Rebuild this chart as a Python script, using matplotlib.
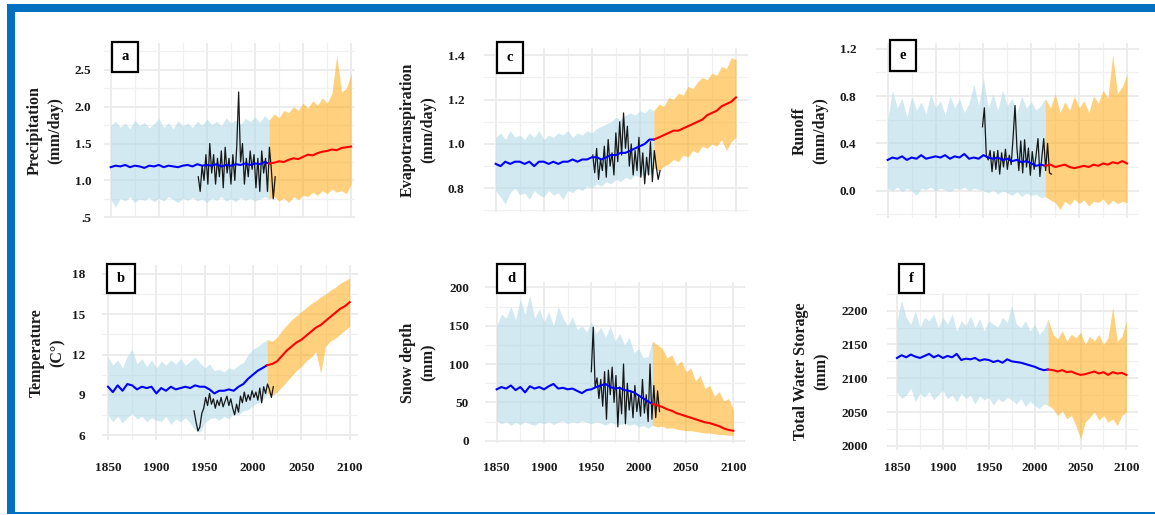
import numpy as np
import matplotlib.pyplot as plt
from matplotlib.patches import Rectangle

# Figure size in pixels (saved at dpi=100)
W, H = 1155, 515

plt.rcParams['font.family'] = ['Liberation Serif', 'DejaVu Serif']
plt.rcParams['font.weight'] = 'bold'

# -------------------------
# Data
# -------------------------
years = np.arange(1850, 2101, 5)      # 1850 ... 2100, 5-year steps
split = 33                            # index of 2015: historical / future boundary

# a: Precipitation (mm/day)
pr_hi = [1.75, 1.80, 1.72, 1.78, 1.70, 1.82, 1.74, 1.79, 1.71, 1.77,
         1.84, 1.72, 1.78, 1.70, 1.81, 1.74, 1.78, 1.72, 1.80, 1.75,
         1.83, 1.76, 1.80, 1.74, 1.85, 1.78, 1.82, 1.76, 1.84, 1.80,
         1.86, 1.79, 1.88, 1.82, 1.90, 1.85, 1.95, 1.92, 2.00, 1.95,
         2.05, 1.98, 2.08, 2.02, 2.12, 2.05, 2.18, 2.70, 2.20, 2.25,
         2.45]
pr_lo = [0.74, 0.64, 0.76, 0.72, 0.78, 0.70, 0.75, 0.73, 0.77, 0.71,
         0.76, 0.72, 0.78, 0.74, 0.70, 0.76, 0.73, 0.77, 0.72, 0.75,
         0.70, 0.76, 0.73, 0.78, 0.72, 0.75, 0.71, 0.77, 0.73, 0.76,
         0.72, 0.75, 0.78, 0.75, 0.78, 0.72, 0.76, 0.70, 0.78, 0.74,
         0.80, 0.78, 0.84, 0.80, 0.86, 0.82, 0.88, 0.84, 0.86, 0.82,
         0.95]
pr_mean = [1.18, 1.20, 1.19, 1.21, 1.18, 1.20, 1.19, 1.17, 1.20, 1.19,
           1.21, 1.18, 1.20, 1.19, 1.18, 1.20, 1.21, 1.19, 1.22, 1.20,
           1.21, 1.20, 1.22, 1.19, 1.21, 1.20, 1.22, 1.21, 1.23, 1.21,
           1.23, 1.22, 1.25, 1.23, 1.24, 1.26, 1.25, 1.28, 1.30, 1.29,
           1.32, 1.35, 1.34, 1.37, 1.39, 1.40, 1.42, 1.41, 1.44, 1.45,
           1.46]
pr_obs_start = 1941
pr_obs = [1.05, 0.85, 1.20, 1.00, 1.35, 0.95, 1.50, 1.10, 1.35, 0.95,
          1.30, 1.05, 1.40, 0.90, 1.45, 1.10, 1.30, 0.95, 1.35, 1.00,
          1.45, 2.20, 1.25, 1.50, 0.95, 1.30, 1.05, 1.40, 1.15, 1.35,
          0.90, 1.30, 0.85, 1.40, 1.10, 1.30, 0.85, 1.45, 1.15, 0.75,
          1.05]

# b: Temperature (C)
tas_hi = [11.8, 11.2, 11.6, 11.0, 11.9, 12.4, 11.3, 11.7, 11.1, 11.6,
          11.0, 11.5, 11.2, 11.6, 11.3, 11.7, 11.2, 11.5, 11.8, 11.4,
          11.0, 11.3, 10.8, 10.9, 10.7, 11.0, 10.9, 11.2, 11.4, 12.0,
          12.4, 12.6, 12.9, 13.1, 13.0, 13.3, 13.8, 14.2, 14.6, 14.9,
          15.2, 15.5, 15.8, 16.0, 16.3, 16.5, 16.8, 17.0, 17.3, 17.5,
          17.7]
tas_lo = [7.5, 7.0, 7.4, 6.9, 7.3, 7.6, 7.2, 7.4, 7.0, 7.3,
          7.1, 7.0, 7.4, 6.8, 7.2, 7.0, 7.3, 6.9, 6.4, 6.2,
          6.9, 7.2, 7.3, 7.1, 7.4, 7.2, 7.6, 7.5, 7.8, 7.9,
          8.2, 8.4, 8.6, 9.1, 9.0, 9.2, 9.6, 10.0, 10.4, 10.8,
          11.1, 11.5, 11.8, 12.2, 10.6, 12.6, 13.0, 13.2, 13.5, 13.8,
          14.1]
tas_mean = [9.6, 9.2, 9.7, 9.3, 9.8, 9.7, 9.4, 9.6, 9.5, 9.6,
            9.1, 9.5, 9.3, 9.6, 9.4, 9.5, 9.6, 9.5, 9.7, 9.6,
            9.6, 9.4, 9.1, 9.3, 9.3, 9.4, 9.3, 9.6, 9.8, 10.2,
            10.5, 10.8, 11.0, 11.2, 11.3, 11.5, 11.9, 12.3, 12.6, 12.9,
            13.1, 13.4, 13.7, 14.0, 14.2, 14.5, 14.8, 15.1, 15.4, 15.6,
            15.9]
tas_obs_start = 1939
tas_obs = [7.8, 7.0, 6.3, 6.6, 7.6, 8.0, 8.8, 8.2, 9.1, 8.3,
           8.7, 8.0, 8.6, 8.2, 8.8, 8.1, 8.5, 8.9, 8.2, 8.7,
           8.0, 7.5, 8.3, 7.7, 8.9, 8.4, 9.2, 8.5, 9.0, 8.6,
           9.3, 8.8, 9.2, 8.6, 9.5, 8.4, 9.6, 9.1, 9.8, 9.4,
           8.8, 9.6]

# c: Evapotranspiration (mm/day)
et_hi = [1.03, 1.05, 1.02, 1.06, 1.03, 1.04, 1.02, 1.05, 1.03, 1.06,
         1.02, 1.04, 1.03, 1.05, 1.04, 1.06, 1.03, 1.05, 1.04, 1.06,
         1.05, 1.07, 1.08, 1.09, 1.10, 1.12, 1.11, 1.13, 1.14, 1.13,
         1.15, 1.14, 1.16, 1.15, 1.18, 1.17, 1.21, 1.20, 1.23, 1.22,
         1.26, 1.25, 1.28, 1.30, 1.29, 1.32, 1.31, 1.35, 1.34, 1.39,
         1.38]
et_lo = [0.79, 0.76, 0.73, 0.78, 0.80, 0.77, 0.78, 0.75, 0.79, 0.77,
         0.76, 0.79, 0.77, 0.78, 0.75, 0.79, 0.78, 0.80, 0.79, 0.81,
         0.80, 0.82, 0.81, 0.83, 0.82, 0.84, 0.83, 0.85, 0.84, 0.86,
         0.85, 0.87, 0.86, 0.89, 0.88, 0.90, 0.91, 0.93, 0.92, 0.95,
         0.94, 0.97, 0.96, 0.99, 0.98, 1.00, 0.99, 1.02, 0.97, 1.01,
         1.03]
et_mean = [0.91, 0.90, 0.92, 0.91, 0.92, 0.92, 0.91, 0.92, 0.90, 0.92,
           0.92, 0.91, 0.92, 0.91, 0.92, 0.92, 0.93, 0.92, 0.93, 0.93,
           0.94, 0.94, 0.93, 0.94, 0.95, 0.95, 0.96, 0.96, 0.97, 0.98,
           0.99, 1.00, 1.02, 1.02, 1.03, 1.04, 1.05, 1.06, 1.06, 1.07,
           1.08, 1.09, 1.10, 1.11, 1.13, 1.14, 1.15, 1.17, 1.18, 1.19,
           1.21]
et_obs_start = 1951
et_obs = [0.95, 0.87, 0.98, 0.84, 0.93, 0.88, 0.99, 0.85, 1.02, 0.90,
          0.96, 0.86, 1.05, 0.92, 1.10, 0.95, 1.14, 0.98, 1.08, 0.90,
          1.00, 0.86, 0.97, 0.88, 1.03, 0.85, 0.96, 0.82, 0.94, 0.86,
          1.01, 0.83, 0.97, 0.90, 0.84, 0.88]

# d: Snow depth (mm)
snd_hi = [150, 165, 160, 175, 158, 185, 165, 190, 160, 172,
          155, 168, 150, 175, 160, 150, 162, 145, 150, 142,
          155, 140, 148, 135, 150, 130, 140, 125, 135, 115,
          120, 108, 110, 130, 125, 120, 108, 112, 98, 104,
          90, 95, 78, 85, 68, 72, 58, 64, 52, 55,
          40]
snd_lo = [26, 22, 25, 20, 24, 21, 25, 22, 20, 24,
          22, 25, 21, 24, 26, 22, 25, 23, 26, 24,
          22, 25, 23, 20, 24, 22, 21, 23, 20, 22,
          18, 20, 16, 20, 18, 19, 16, 17, 15, 14,
          13, 13, 12, 11, 10, 10, 9, 8, 8, 7,
          7]
snd_mean = [67, 70, 68, 72, 66, 70, 63, 71, 68, 70,
            67, 71, 74, 68, 69, 67, 68, 65, 62, 66,
            67, 70, 72, 74, 70, 68, 69, 66, 65, 63,
            59, 55, 51, 48, 46, 44, 41, 39, 36, 34,
            32, 30, 28, 26, 24, 23, 21, 19, 16, 14,
            13]
snd_obs_start = 1950
snd_obs = [90, 148, 70, 82, 55, 80, 45, 90, 28, 92,
           60, 96, 50, 85, 18, 70, 35, 100, 22, 75,
           40, 65, 30, 72, 38, 58, 32, 80, 36, 60,
           25, 100, 28, 72, 30, 65, 38]

# e: Runoff (mm/day)
ro_hi = [0.60, 0.85, 0.70, 0.78, 0.62, 0.80, 0.68, 0.75, 0.65, 0.82,
         0.70, 0.76, 0.64, 0.80, 0.70, 0.78, 0.66, 0.74, 0.90, 0.72,
         0.95, 0.70, 0.82, 0.68, 0.85, 0.72, 0.78, 0.66, 0.80, 0.70,
         0.75, 0.68, 0.72, 0.78, 0.70, 0.82, 0.66, 0.75, 0.68, 0.80,
         0.70, 0.76, 0.66, 0.80, 0.74, 0.85, 0.78, 1.15, 0.82, 0.88,
         0.98]
ro_lo = [0.02, 0.00, 0.03, -0.01, 0.02, 0.00, -0.04, 0.02, 0.01, 0.03,
         0.00, 0.02, 0.01, -0.01, 0.02, 0.01, 0.03, 0.00, 0.02, 0.01,
         0.00, -0.02, 0.01, -0.03, 0.00, -0.02, -0.04, -0.01, -0.05, -0.02,
         -0.04, -0.03, -0.06, -0.05, -0.08, -0.10, -0.16, -0.09, -0.12, -0.07,
         -0.11, -0.08, -0.13, -0.09, -0.10, -0.07, -0.12, -0.08, -0.11, -0.09,
         -0.10]
ro_mean = [0.26, 0.28, 0.27, 0.29, 0.26, 0.28, 0.27, 0.30, 0.27, 0.28,
           0.29, 0.28, 0.30, 0.27, 0.29, 0.28, 0.31, 0.27, 0.28, 0.27,
           0.30, 0.28, 0.27, 0.28, 0.26, 0.27, 0.25, 0.26, 0.24, 0.25,
           0.23, 0.21, 0.22, 0.21, 0.22, 0.20, 0.21, 0.22, 0.20, 0.19,
           0.20, 0.21, 0.20, 0.22, 0.21, 0.23, 0.22, 0.24, 0.23, 0.25,
           0.23]
ro_obs_start = 1949
ro_obs = [0.54, 0.70, 0.30, 0.26, 0.34, 0.16, 0.33, 0.18, 0.34, 0.14,
          0.32, 0.20, 0.35, 0.18, 0.30, 0.22, 0.45, 0.72, 0.36, 0.17,
          0.42, 0.15, 0.43, 0.20, 0.36, 0.13, 0.33, 0.18, 0.30, 0.44,
          0.12, 0.28, 0.44, 0.17, 0.40, 0.15, 0.14]

# f: Total Water Storage (mm)
tws_hi = [2185, 2215, 2190, 2180, 2200, 2175, 2190, 2185, 2195, 2175,
          2190, 2180, 2195, 2170, 2185, 2178, 2192, 2175, 2188, 2170,
          2185, 2180, 2176, 2190, 2182, 2208, 2180, 2175, 2185, 2170,
          2180, 2165, 2172, 2188, 2165, 2158, 2170, 2155, 2165, 2160,
          2168, 2150, 2162, 2155, 2165, 2150, 2160, 2205, 2155, 2162,
          2185]
tws_lo = [2080, 2070, 2075, 2085, 2065, 2078, 2072, 2080, 2068, 2076,
          2082, 2070, 2075, 2065, 2078, 2070, 2075, 2062, 2074, 2068,
          2072, 2060, 2070, 2065, 2072, 2068, 2062, 2070, 2058, 2066,
          2060, 2055, 2062, 2060, 2055, 2045, 2052, 2040, 2045, 2030,
          2010, 2035, 2042, 2050, 2038, 2045, 2035, 2040, 2030, 2045,
          2050]
tws_mean = [2130, 2134, 2131, 2135, 2132, 2130, 2133, 2136, 2131, 2134,
            2130, 2133, 2131, 2136, 2127, 2129, 2128, 2130, 2126, 2128,
            2127, 2124, 2126, 2123, 2128, 2125, 2124, 2123, 2121, 2119,
            2117, 2114, 2112, 2113, 2112, 2110, 2112, 2109, 2110, 2107,
            2105, 2106, 2108, 2110, 2107, 2109, 2105, 2109, 2107, 2108,
            2105]

# Axis tick labels
pr_ticks, pr_labels = [0.5, 1.0, 1.5, 2.0, 2.5], ['.5', '1.0', '1.5', '2.0', '2.5']
tas_ticks, tas_labels = [6, 9, 12, 15, 18], ['6', '9', '12', '15', '18']
et_ticks, et_labels = [0.8, 1.0, 1.2, 1.4], ['0.8', '1.0', '1.2', '1.4']
snd_ticks, snd_labels = [0, 50, 100, 150, 200], ['0', '50', '100', '150', '200']
ro_ticks, ro_labels = [0.0, 0.4, 0.8, 1.2], ['0.0', '0.4', '0.8', '1.2']
tws_ticks, tws_labels = [2000, 2050, 2100, 2150, 2200], ['2000', '2050', '2100', '2150', '2200']
year_ticks = [1850, 1900, 1950, 2000, 2050, 2100]
year_labels = ['1850', '1900', '1950', '2000', '2050', '2100']

# -------------------------
# Panel layout (pixel boxes: left, top, right, bottom) and settings
# -------------------------
panels = [
    dict(tag='a', box=(104, 43, 355, 218), xlim=(1843, 2104), ylim=(0.49, 2.865),
         hi=pr_hi, lo=pr_lo, mean=pr_mean, obs=pr_obs, obs_start=pr_obs_start,
         ticks=pr_ticks, labels=pr_labels, minor=[0.75, 1.25, 1.75, 2.25, 2.75],
         ylabel='Precipitation\n(mm/day)', ylab_x=45, letter=(112, 42, 138, 72),
         ypad=9, bottom=False),
    dict(tag='b', box=(102, 265, 358, 440), xlim=(1843.8, 2108.6), ylim=(5.63, 18.67),
         hi=tas_hi, lo=tas_lo, mean=tas_mean, obs=tas_obs, obs_start=tas_obs_start,
         ticks=tas_ticks, labels=tas_labels, minor=[7.5, 10.5, 13.5, 16.5],
         ylabel='Temperature\n(C°)', ylab_x=47, letter=(107, 264, 135, 293),
         ypad=12, bottom=True, xpad=15.5),
    dict(tag='c', box=(484, 48, 748, 212), xlim=(1837.8, 2112.5), ylim=(0.693, 1.433),
         hi=et_hi, lo=et_lo, mean=et_mean, obs=et_obs, obs_start=et_obs_start,
         ticks=et_ticks, labels=et_labels, minor=[0.7, 0.9, 1.1, 1.3],
         ylabel='Evapotranspiration\n(mm/day)', ylab_x=418, letter=(497, 42, 523, 73),
         ypad=14, bottom=False),
    dict(tag='d', box=(485, 282, 745, 443), xlim=(1837.7, 2112.3), ylim=(-3, 207),
         hi=snd_hi, lo=snd_lo, mean=snd_mean, obs=snd_obs, obs_start=snd_obs_start,
         ticks=snd_ticks, labels=snd_labels, minor=[25, 75, 125, 175],
         ylabel='Snow depth\n(mm)', ylab_x=418, letter=(497, 264, 525, 293),
         ypad=11.5, bottom=True, xpad=13.5),
    dict(tag='e', box=(876, 43, 1139, 218), xlim=(1837.8, 2112.5), ylim=(-0.231, 1.248),
         hi=ro_hi, lo=ro_lo, mean=ro_mean, obs=ro_obs, obs_start=ro_obs_start,
         ticks=ro_ticks, labels=ro_labels, minor=[-0.2, 0.2, 0.6, 1.0],
         ylabel='Runoff\n(mm/day)', ylab_x=810, letter=(890, 40, 916, 71),
         ypad=14, bottom=False),
    dict(tag='f', box=(887, 293, 1138, 450), xlim=(1839.1, 2112.6), ylim=(1994, 2226),
         hi=tws_hi, lo=tws_lo, mean=tws_mean, obs=None, obs_start=None,
         ticks=tws_ticks, labels=tws_labels, minor=[2025, 2075, 2125, 2175, 2225],
         ylabel='Total Water Storage\n(mm)', ylab_x=811, letter=(899, 264, 924, 293),
         ypad=14, bottom=True, xpad=8.6),
]

TEXT = '#1a1a1a'
fig = plt.figure(figsize=(W / 100, H / 100), dpi=100)

# x positions of the historical (to 2014) and future (from 2015) parts
x_hist = years[:split + 1].astype(float)
x_hist[-1] = 2014.5
x_fut = years[split:].astype(float)
x_fut[0] = 2014.5

for p in panels:
    l, t, r, b = p['box']
    ax = fig.add_axes([l / W, 1 - b / H, (r - l) / W, (b - t) / H])
    hi, lo, mean = np.array(p['hi']), np.array(p['lo']), np.array(p['mean'])

    # envelopes
    ax.fill_between(x_hist, lo[:split + 1], hi[:split + 1], color='#ADD8E6', alpha=0.55, lw=0)
    ax.fill_between(x_fut, lo[split:], hi[split:], color='#FFA500', alpha=0.5, lw=0)

    # observations
    if p['obs'] is not None:
        obs_years = np.arange(p['obs_start'], p['obs_start'] + 2 * len(p['obs']), 2)
        ax.plot(obs_years, p['obs'], color='black', lw=0.9, alpha=0.9)

    # ensemble means
    ax.plot(x_hist, mean[:split + 1], color='#0000FF', lw=1.5)
    ax.plot(x_fut, mean[split:], color='#FF0000', lw=1.5)

    ax.set_xlim(*p['xlim'])
    ax.set_ylim(*p['ylim'])
    ax.set_xticks(year_ticks)
    ax.set_xticks([1875, 1925, 1975, 2025, 2075], minor=True)
    ax.set_yticks(p['ticks'])
    ax.set_yticks(p['minor'], minor=True)
    ax.set_yticklabels(p['labels'])
    if p['bottom']:
        ax.set_xticklabels(year_labels)
        ax.tick_params(axis='x', pad=p['xpad'])
    else:
        ax.tick_params(axis='x', labelbottom=False)
    ax.tick_params(axis='y', pad=p['ypad'])
    ax.tick_params(which='both', length=0, labelsize=9.5, labelcolor=TEXT)

    ax.set_axisbelow(True)
    ax.grid(which='major', color='#EBEBEB', lw=1.3)
    ax.grid(which='minor', color='#F0F0F0', lw=0.9)
    for s in ax.spines.values():
        s.set_visible(False)

    # y label, centred on the panel
    fig.text(p['ylab_x'] / W, 1 - (t + b) / 2 / H, p['ylabel'], rotation=90,
             ha='center', va='center', multialignment='center',
             fontsize=11.5, linespacing=1.4, color=TEXT)

    # panel letter box
    bl, bt, br, bb = p['letter']
    fig.add_artist(Rectangle((bl / W, 1 - bb / H), (br - bl) / W, (bb - bt) / H,
                             transform=fig.transFigure, facecolor='white',
                             edgecolor='black', lw=1.6, zorder=5))
    fig.text((bl + br) / 2 / W, 1 - (bt + bb) / 2 / H, p['tag'], ha='center',
             va='center', fontsize=10.5, color='black', zorder=6)

# -------------------------
# Blue frame around the figure
# -------------------------
frame = '#0070C0'
fig.add_artist(Rectangle((7 / W, 1 - 11.5 / H), (W - 7) / W, 7.5 / H,
                         transform=fig.transFigure, color=frame, lw=0))
fig.add_artist(Rectangle((7 / W, 1 - 514 / H), 8 / W, 510 / H,
                         transform=fig.transFigure, color=frame, lw=0))
fig.add_artist(Rectangle((7 / W, 1 - 514 / H), (W - 7) / W, 2 / H,
                         transform=fig.transFigure, color=frame, lw=0))

fig.savefig('out.png', dpi=100)
